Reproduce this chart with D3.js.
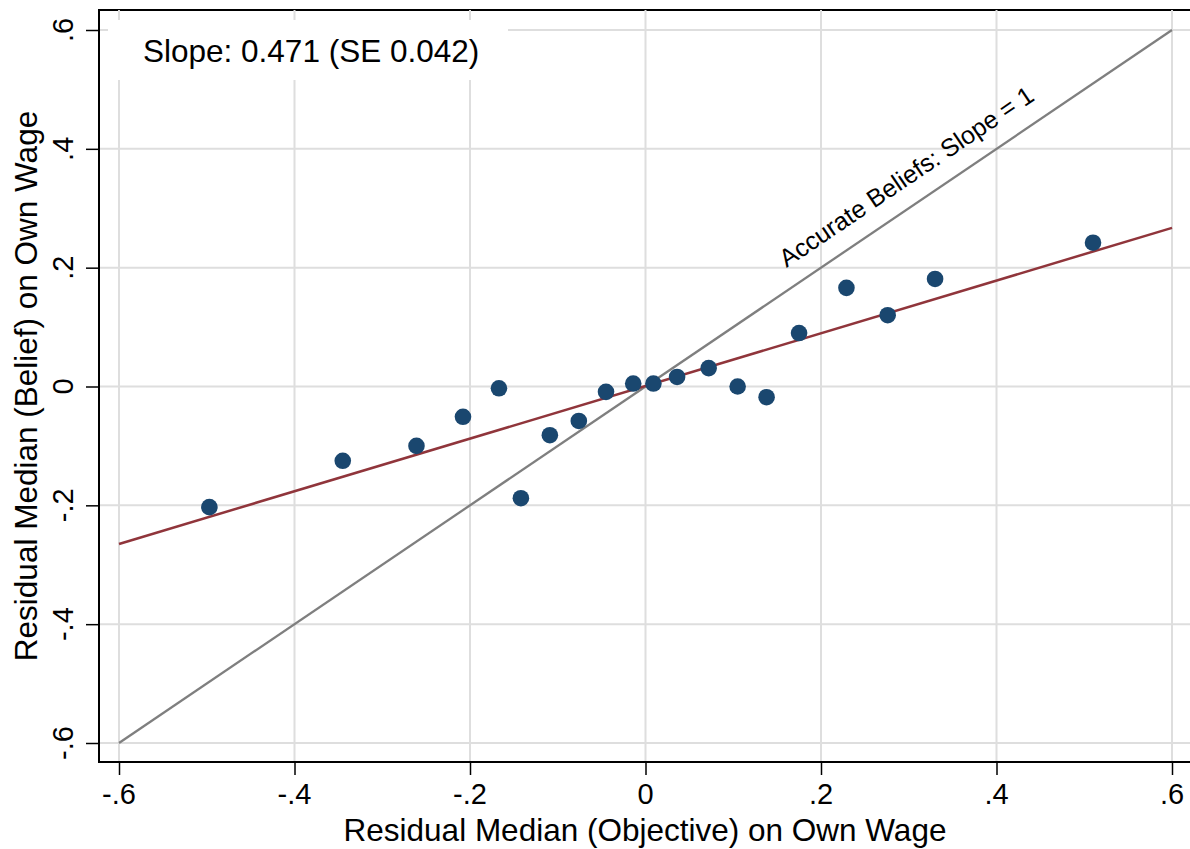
<!DOCTYPE html>
<html>
<head>
<meta charset="utf-8">
<script src="https://cdn.jsdelivr.net/npm/d3@7"></script>
<style>
  html, body { margin: 0; padding: 0; background: #fff; }
  svg { display: block; font-family: "Liberation Sans", Arial, Helvetica, sans-serif; }
</style>
</head>
<body>
<svg id="chart" width="1190" height="849"></svg>
<script>
// ---- data ----
const objective = [-0.497, -0.345, -0.261, -0.208, -0.167, -0.142, -0.109, -0.076, -0.045, -0.014,
                    0.009,  0.036,  0.072,  0.105,  0.138,  0.175,  0.229,  0.276,  0.330,  0.510];
const belief    = [-0.203, -0.125, -0.100, -0.051, -0.003, -0.188, -0.082, -0.058, -0.009,  0.005,
                    0.005,  0.016,  0.031,  0.000, -0.018,  0.090,  0.166,  0.120,  0.181,  0.242];
const fitX = [-0.6, 0.6];
const fitY = [-0.265, 0.267];
const accurateX = [-0.6, 0.6];
const accurateY = [-0.6, 0.6];
const xTicks = [-0.6, -0.4, -0.2, 0, 0.2, 0.4, 0.6];
const yTicks = [-0.6, -0.4, -0.2, 0, 0.2, 0.4, 0.6];
const slopeText = "Slope: 0.471 (SE 0.042)";
const accurateLabel = "Accurate Beliefs: Slope = 1";
const xTitle = "Residual Median (Objective) on Own Wage";
const yTitle = "Residual Median (Belief) on Own Wage";

// ---- layout ----
const W = 1190, H = 849;
const plotL = 99, plotR = 1190, plotT = 10, plotB = 762;
const x = d3.scaleLinear().domain([-0.6, 0.6]).range([119, 1172]);
const y = d3.scaleLinear().domain([-0.6, 0.6]).range([743, 30]);
const fmt = d => Math.abs(d) < 1e-9 ? "0" : d.toFixed(1).replace(/^(-?)0\./, "$1.");

const svg = d3.select("#chart");
svg.append("rect").attr("width", W).attr("height", H).attr("fill", "#fff");

// top border
svg.append("line").attr("x1", plotL).attr("x2", plotR).attr("y1", plotT).attr("y2", plotT)
  .attr("stroke", "#000").attr("stroke-width", 2);

// gridlines
const grid = svg.append("g");
grid.selectAll("line.vx").data(xTicks).join("line")
  .attr("x1", d => x(d)).attr("x2", d => x(d))
  .attr("y1", plotT).attr("y2", plotB)
  .attr("stroke", "#dedede").attr("stroke-width", 2);
grid.selectAll("line.hy").data(yTicks).join("line")
  .attr("x1", plotL).attr("x2", plotR)
  .attr("y1", d => y(d)).attr("y2", d => y(d))
  .attr("stroke", "#dedede").attr("stroke-width", 2);

// slope box
svg.append("rect").attr("x", 108).attr("y", 20).attr("width", 400).attr("height", 60).attr("fill", "#fff");
svg.append("text").attr("x", 143).attr("y", 62).attr("font-size", 31.5).attr("fill", "#000").text(slopeText);

// 45-degree line
const line = d3.line().x(d => x(d[0])).y(d => y(d[1]));
svg.append("path").datum(d3.zip(accurateX, accurateY)).attr("d", line)
  .attr("fill", "none").attr("stroke", "#7f7f7f").attr("stroke-width", 2.3);

// fitted line
svg.append("path").datum(d3.zip(fitX, fitY)).attr("d", line)
  .attr("fill", "none").attr("stroke", "#90353b").attr("stroke-width", 2.5);

// accurate beliefs label
const ang = Math.atan2(y(accurateY[0]) - y(accurateY[1]), x(accurateX[1]) - x(accurateX[0])) * 180 / Math.PI;
const lx = 0.155;
svg.append("text")
  .attr("transform", `translate(${x(lx)},${y(lx)}) rotate(${-ang})`)
  .attr("x", 19).attr("y", -19)
  .attr("font-size", 25).attr("fill", "#000").text(accurateLabel);

// points
svg.append("g").selectAll("circle").data(d3.zip(objective, belief)).join("circle")
  .attr("cx", d => x(d[0])).attr("cy", d => y(d[1])).attr("r", 8.3)
  .attr("fill", "#1a476f");

// axes
const yAxis = svg.append("g").attr("transform", `translate(${plotL},0)`)
  .call(d3.axisLeft(y).tickValues(yTicks).tickSize(13).tickFormat(""));
yAxis.select(".domain").remove();
yAxis.selectAll(".tick line").attr("stroke", "#000").attr("stroke-width", 1.5);
svg.append("line").attr("x1", plotL).attr("x2", plotL).attr("y1", plotT - 1).attr("y2", plotB + 1)
  .attr("stroke", "#000").attr("stroke-width", 2);

const xAxis = svg.append("g").attr("transform", `translate(0,${plotB})`)
  .call(d3.axisBottom(x).tickValues(xTicks).tickSize(13).tickFormat(""));
xAxis.select(".domain").remove();
xAxis.selectAll(".tick line").attr("stroke", "#000").attr("stroke-width", 1.5);
svg.append("line").attr("x1", plotL - 1).attr("x2", plotR).attr("y1", plotB).attr("y2", plotB)
  .attr("stroke", "#000").attr("stroke-width", 2);

// tick labels
svg.append("g").selectAll("text").data(xTicks).join("text")
  .attr("x", d => x(d)).attr("y", 804).attr("text-anchor", "middle")
  .attr("font-size", 29).attr("fill", "#000").text(fmt);
svg.append("g").selectAll("text").data(yTicks).join("text")
  .attr("transform", d => `translate(73,${y(d)}) rotate(-90)`)
  .attr("text-anchor", "middle")
  .attr("font-size", 29).attr("fill", "#000").text(fmt);

// axis titles
svg.append("text").attr("x", 645).attr("y", 841).attr("text-anchor", "middle")
  .attr("font-size", 31.5).attr("fill", "#000").text(xTitle);
svg.append("text").attr("transform", `translate(37,386) rotate(-90)`).attr("text-anchor", "middle")
  .attr("font-size", 31.5).attr("fill", "#000").text(yTitle);
</script>
</body>
</html>
